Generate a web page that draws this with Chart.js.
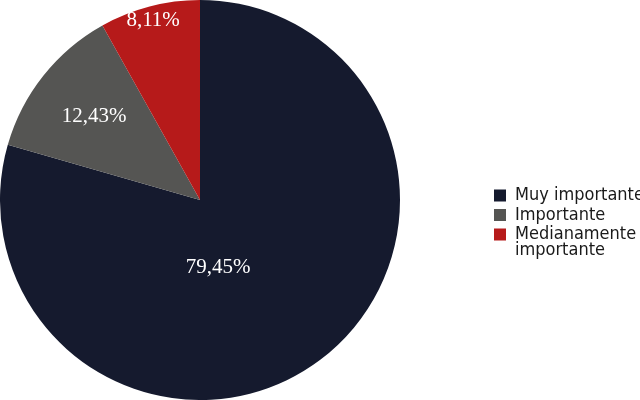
<!DOCTYPE html>
<html><head><meta charset="utf-8">
<script src="https://cdn.jsdelivr.net/npm/chart.js@4"></script>
<style>html,body{margin:0;padding:0;background:#fff}#w{width:640px;height:400px;position:relative}</style>
</head><body><div id="w"><canvas id="c" width="640" height="400"></canvas></div>
<script>
const categories = ['Muy importante', 'Importante', ['Medianamente', 'importante']];
const values = [79.45, 12.43, 8.11];
const valueLabels = ['79,45%', '12,43%', '8,11%'];
const colors = ['#151a2e', '#555553', '#b61a1a'];

// label placement inside each slice: t = fraction along the arc, f = fraction of radius
const labelPos = [{t: 0.577, f: 0.35}, {t: 0.5, f: 0.675}, {t: 0.5, f: 0.93}];

const pctLabels = {
  id: 'pctLabels',
  afterDatasetsDraw(chart) {
    const ctx = chart.ctx;
    const meta = chart.getDatasetMeta(0);
    meta.data.forEach((arc, i) => {
      const p = arc.getProps(['x', 'y', 'startAngle', 'endAngle', 'outerRadius'], true);
      const lp = labelPos[i];
      const a = p.startAngle + (p.endAngle - p.startAngle) * lp.t;
      const r = p.outerRadius * lp.f;
      ctx.save();
      ctx.fillStyle = '#ffffff';
      ctx.font = '21px "Liberation Serif", "DejaVu Serif", serif';
      ctx.textAlign = 'center';
      ctx.textBaseline = 'middle';
      ctx.fillText(valueLabels[i], p.x + Math.cos(a) * r, p.y + Math.sin(a) * r);
      ctx.restore();
    });
  }
};

// keep the pie in the left 400px and put the legend block at the right
const legendPlace = {
  id: 'legendPlace',
  beforeLayout(chart) {
    const lg = chart.legend;
    if (lg && !lg._patched) {
      const f = lg.fit;
      lg.fit = function () { f.call(this); this.width = 240; };
      lg._patched = true;
    }
  },
  afterLayout(chart) {
    const lg = chart.legend;
    if (lg) { lg.left = 492.5; lg.right = 492.5 + lg.width; }
  }
};

new Chart(document.getElementById('c'), {
  type: 'pie',
  data: {
    labels: categories,
    datasets: [{
      data: values,
      backgroundColor: colors,
      borderWidth: 0
    }]
  },
  options: {
    responsive: false,
    animation: false,
    devicePixelRatio: 1,
    layout: {padding: 0},
    plugins: {
      tooltip: {enabled: false},
      legend: {
        position: 'right',
        align: 'start',
        title: {display: true, text: '', font: {size: 1, lineHeight: 1}, padding: {top: 184, bottom: 0}},
        labels: {
          boxWidth: 12,
          boxHeight: 12,
          padding: 1.5,
          color: '#1a1a1a',
          font: {family: '"DejaVu Sans Condensed", sans-serif', size: 18, lineHeight: 0.9}
        }
      }
    }
  },
  plugins: [pctLabels, legendPlace]
});
</script>
</body></html>
